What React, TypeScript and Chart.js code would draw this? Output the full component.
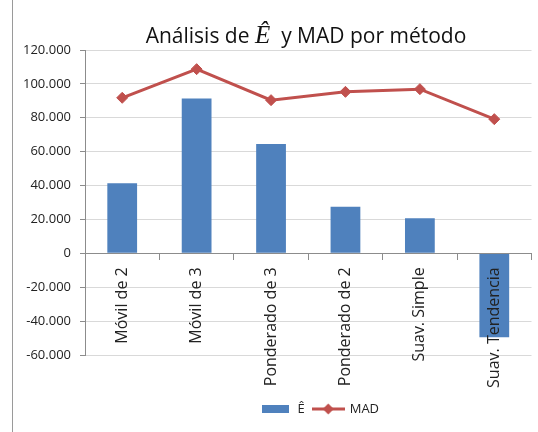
import React, { useEffect, useRef } from 'react';
import { Chart, registerables } from 'chart.js';

Chart.register(...registerables);

// ---- data ----
const categories = ['Móvil de 2', 'Móvil de 3', 'Ponderado de 3', 'Ponderado de 2', 'Suav. Simple', 'Suav. Tendencia'];
const eHatValues = [41300, 91400, 64500, 27500, 20700, -49500];
const madValues = [91800, 108700, 90400, 95300, 96900, 79200];
const yMin = -60000;
const yMax = 120000;
const yStep = 20000;
const seriesLabels = ['Ê', 'MAD'];
const titleParts = ['Análisis de ', 'Ê', '  y MAD por método'];

// ---- style ----
const BAR_COLOR = '#4F81BD';
const LINE_COLOR = '#C0504D';
const SANS = '"Open Sans", "Noto Sans", sans-serif';
const LEGEND_CX = 320;
const LEGEND_CY = 409;
const TITLE_CX = 306;
const TITLE_BASELINE = 43;

function formatThousands(v: number): string {
  if (v === 0) return '0';
  const s = Math.abs(v).toString().replace(/\B(?=(\d{3})+(?!\d))/g, '.');
  return (v < 0 ? '-' : '') + s;
}

function makeBarIcon(): HTMLCanvasElement {
  const c = document.createElement('canvas');
  c.width = 27;
  c.height = 8;
  const g = c.getContext('2d')!;
  g.fillStyle = BAR_COLOR;
  g.fillRect(0, 0, 27, 8);
  return c;
}

function makeLineIcon(): HTMLCanvasElement {
  const c = document.createElement('canvas');
  c.width = 33;
  c.height = 12;
  const g = c.getContext('2d')!;
  g.strokeStyle = LINE_COLOR;
  g.lineWidth = 3;
  g.beginPath();
  g.moveTo(0, 6);
  g.lineTo(33, 6);
  g.stroke();
  g.fillStyle = LINE_COLOR;
  g.beginPath();
  g.moveTo(16.5, 0.5);
  g.lineTo(22, 6);
  g.lineTo(16.5, 11.5);
  g.lineTo(11, 6);
  g.closePath();
  g.fill();
  return c;
}

const titlePlugin = {
  id: 'mixedTitle',
  afterDraw(chart: any) {
    const ctx = chart.ctx as CanvasRenderingContext2D;
    ctx.save();
    ctx.textBaseline = 'alphabetic';
    ctx.textAlign = 'left';
    ctx.fillStyle = '#111111';
    const fonts = [`21px ${SANS}`, 'italic 25px "Liberation Serif", "DejaVu Serif", serif', `21px ${SANS}`];
    const widths = titleParts.map((t, i) => {
      ctx.font = fonts[i];
      return ctx.measureText(t).width;
    });
    const total = widths.reduce((a, b) => a + b, 0);
    let x = TITLE_CX - total / 2;
    titleParts.forEach((t, i) => {
      ctx.font = fonts[i];
      ctx.fillText(t, x, TITLE_BASELINE);
      x += widths[i];
    });
    ctx.restore();
  },
};

const legendPlacePlugin = {
  id: 'legendPlace',
  afterLayout(chart: any) {
    const lg = chart.legend;
    if (!lg) return;
    const dx = LEGEND_CX - (lg.left + lg.right) / 2;
    lg.left += dx;
    lg.right += dx;
    const p = lg.options.labels.padding;
    const fs = 13;
    const dy = LEGEND_CY - (lg.top + p + fs / 2);
    lg.top += dy;
    lg.bottom += dy;
  },
};

export default function App() {
  const canvasRef = useRef<HTMLCanvasElement | null>(null);

  useEffect(() => {
    if (!canvasRef.current) return;
    const icons = [makeBarIcon(), makeLineIcon()];
    const chart = new Chart(canvasRef.current, {
      type: 'bar',
      data: {
        labels: categories,
        datasets: [
          {
            type: 'bar',
            label: seriesLabels[0],
            data: eHatValues,
            backgroundColor: BAR_COLOR,
            borderWidth: 0,
            categoryPercentage: 1,
            barPercentage: 0.4,
            order: 1,
          },
          {
            type: 'line',
            label: seriesLabels[1],
            data: madValues,
            borderColor: LINE_COLOR,
            backgroundColor: LINE_COLOR,
            borderWidth: 3,
            pointStyle: 'rectRot',
            pointRadius: 5.5,
            pointBackgroundColor: LINE_COLOR,
            pointBorderColor: LINE_COLOR,
            pointBorderWidth: 1,
            tension: 0,
            order: 0,
          },
        ] as any,
      },
      options: {
        animation: false,
        responsive: false,
        layout: { padding: { left: 12, right: 5, top: 50, bottom: 45.5 } },
        plugins: {
          title: { display: false },
          tooltip: { enabled: false },
          legend: {
            display: true,
            position: 'bottom',
            labels: {
              usePointStyle: true,
              pointStyleWidth: 30,
              padding: 8.5,
              color: '#222222',
              font: { family: SANS, size: 13 },
              generateLabels(ch: any) {
                const items = (Chart.defaults.plugins.legend.labels as any).generateLabels(ch);
                items.sort((a: any, b: any) => a.datasetIndex - b.datasetIndex);
                items.forEach((it: any) => {
                  it.pointStyle = icons[it.datasetIndex];
                });
                return items;
              },
            },
          },
        },
        scales: {
          x: {
            position: { y: 0 } as any,
            offset: true,
            ticks: {
              z: 2,
              minRotation: 90,
              maxRotation: 90,
              autoSkip: false,
              color: '#222222',
              font: { family: SANS, size: 16 },
              padding: 8,
            },
            grid: { drawOnChartArea: false, offset: true, tickLength: 6, tickColor: '#8c8c8c' },
            border: { color: '#8c8c8c', width: 1, z: 1 },
          },
          y: {
            min: yMin,
            max: yMax,
            ticks: {
              stepSize: yStep,
              color: '#222222',
              font: { family: SANS, size: 13 },
              padding: 9,
              callback: (v: any) => formatThousands(Number(v)),
            },
            grid: { color: '#d9d9d9', tickColor: '#8c8c8c', tickLength: 5 },
            border: { color: '#8c8c8c' },
            afterFit: (s: any) => {
              s.width = 73;
            },
          },
        },
      } as any,
      plugins: [titlePlugin, legendPlacePlugin],
    });
    return () => chart.destroy();
  }, []);

  return (
    <div style={{ position: 'absolute', left: 0, top: 0, width: 538, height: 432, background: '#ffffff', overflow: 'hidden' }}>
      <canvas ref={canvasRef} width={538} height={432} style={{ position: 'absolute', left: 0, top: 0, display: 'block' }} />
      <div style={{ position: 'absolute', left: 12, top: 0, width: 1, height: 432, background: '#9a9a9a' }} />
    </div>
  );
}
